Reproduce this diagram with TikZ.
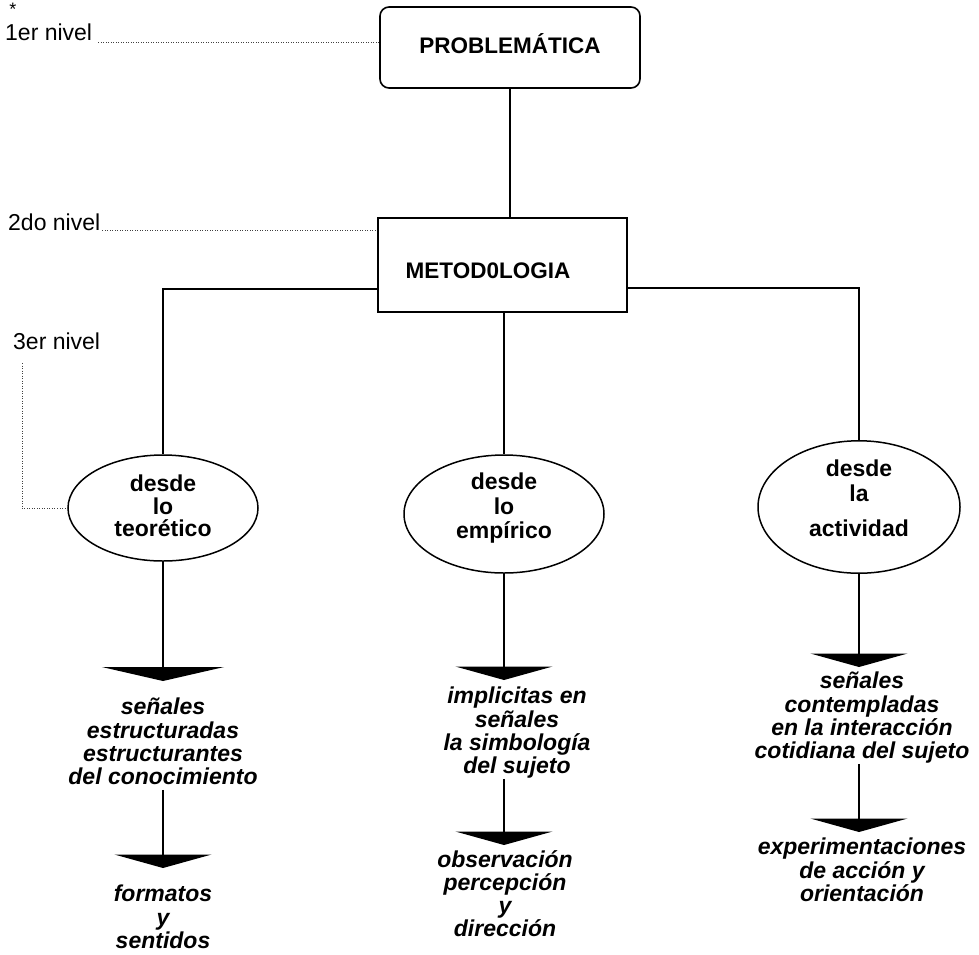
\documentclass[tikz,border=0pt]{standalone}
\usepackage{fontspec}
\setmainfont{Liberation Sans}
\usetikzlibrary{shapes.geometric,arrows.meta}

\begin{document}
\begin{tikzpicture}[x=1pt,y=-1pt,
  lvl/.style={font=\fontsize{23}{24}\selectfont, inner sep=0pt},
  dotline/.style={line width=0.7pt, black!75, dash pattern=on 0.9pt off 1.6pt},
  link/.style={line width=1.5pt},
  pbox/.style={draw, line width=1.6pt, rounded corners=9pt, minimum width=260pt,
    minimum height=81pt, inner sep=0pt, text height=16pt, text depth=5pt,
    font=\bfseries\fontsize{22.5}{24}\selectfont},
  mbox/.style={draw, line width=1.6pt, minimum width=249pt, minimum height=94pt,
    inner sep=0pt, text height=26pt, text depth=0pt,
    font=\bfseries\fontsize{22.5}{24}\selectfont},
  oval/.style={ellipse, draw, line width=1.5pt, inner sep=0pt, align=center},
  txt/.style={inner sep=0pt, align=center, anchor=north,
    font=\bfseries\itshape\fontsize{23}{23.3}\selectfont,
    execute at begin node={\rule{0pt}{17pt}},
    execute at end node={\rule[-5pt]{0pt}{0pt}}},
  bigtip/.style={link, -{Triangle[width=122pt,length=14pt]}},
  tip/.style={link, -{Triangle[width=97pt,length=13.5pt]}}
]
\useasboundingbox (0,0) rectangle (979,954);
\fill[white] (0,0) rectangle (979,954);

% level labels
\node[lvl, anchor=base west] (l1) at (5,40) {1er nivel};
\node[inner sep=0pt, font=\fontsize{18}{18}\selectfont] (ast) at (13,9) {*};
\node[lvl, anchor=base west] (l2) at (8,230) {2do nivel};
\node[lvl, anchor=base west] (l3) at (13,349) {3er nivel};

% top levels
\node[pbox] (p) at (510,47.5) {PROBLEMÁTICA};
\node[mbox] (m) at (502.5,265) {METOD0LOGIA\kern29pt};

% third level ellipses
\node[oval, minimum width=190pt, minimum height=106pt,
  font=\bfseries\fontsize{23}{22.5}\selectfont] (e1) at (163,508)
  {desde\\lo\\teorético\rule[-4pt]{0pt}{0pt}};
\node[oval, minimum width=200pt, minimum height=118pt,
  font=\bfseries\fontsize{23}{24.5}\selectfont] (e2) at (504,514)
  {desde\\lo\\empírico\rule[-16pt]{0pt}{0pt}};
\node[oval, minimum width=202pt, minimum height=130pt,
  font=\bfseries\fontsize{23}{25}\selectfont] (e3) at (859,507)
  {desde\\la\\[10pt]actividad\rule[-17pt]{0pt}{0pt}};

% descriptions
\node[txt] (t1) at (163,698) {señales\\estructuradas\\estructurantes\\del conocimiento};
\node[txt] (t2) at (163,885) {formatos\\y\\sentidos};
\node[txt] (t3) at (517,687) {implicitas en\\señales\\la simbología\\del sujeto};
\node[txt] (t4) at (505,850) {observación\\percepción\\y\\dirección};
\node[txt] (t5) at (862,672) {señales\\contempladas\\en la interacción\\cotidiana del sujeto};
\node[txt] (t6) at (862,838) {experimentaciones\\de acción y\\orientación};

% dotted level guides
\draw[dotline] ([xshift=6pt,yshift=-2pt]l1.base east) -- ([yshift=-2pt]l1.base east -| p.west);
\draw[dotline] ([xshift=2pt]l2.base east) -- (l2.base east -| m.west);
\draw[dotline] ([xshift=9pt,yshift=-14pt]l3.base west) |- (e1.west);

% tree connectors
\draw[link] (p.south) -- (p.south |- m.north);
\draw[link] ([yshift=-24pt]m.west) -| (e1.north);
\draw[link] (m.south -| e2.north) -- (e2.north);
\draw[link] ([yshift=-23pt]m.east) -| (e3.north);

% arrows down each column
\draw[bigtip, shorten >=17pt] (e1.south) -- (e1.south |- t1.north);
\draw[tip, shorten >=17pt] (e1.south |- t1.south) -- (e1.south |- t2.north);
\draw[tip, shorten >=7pt] (e2.south) -- (e2.south |- t3.north);
\draw[tip, shorten >=5pt] (e2.south |- t3.south) -- (e2.south |- t4.north);
\draw[tip, shorten >=5pt] (e3.south) -- (e3.south |- t5.north);
\draw[tip, shorten >=6pt] (e3.south |- t5.south) -- (e3.south |- t6.north);
\end{tikzpicture}
\end{document}
